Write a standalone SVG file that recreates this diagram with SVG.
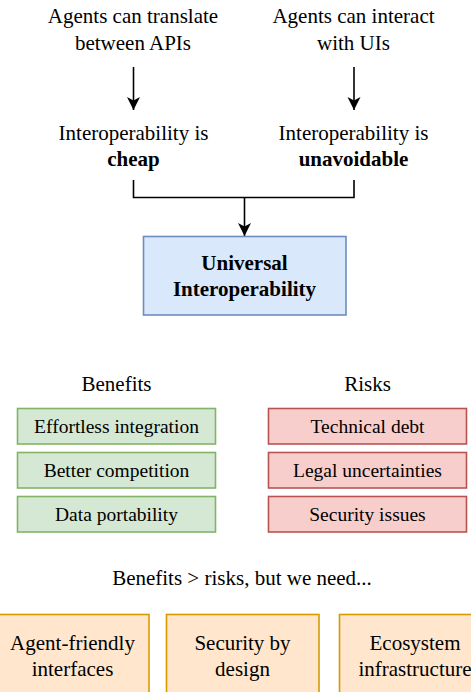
<svg xmlns="http://www.w3.org/2000/svg" width="471" height="692" viewBox="0 0 471 692">
<style>
text{font-family:Liberation Serif,Times New Roman,Times,serif;fill:#000;text-anchor:middle}
.t{font-size:21px}
.s{font-size:19.5px}
.b{font-weight:bold}
.conn{fill:none;stroke:#000;stroke-width:1.6}
.blue{fill:#dae8fc;stroke:#6c8ebf;stroke-width:1.6}
.green{fill:#d5e8d4;stroke:#82b366;stroke-width:1.6}
.red{fill:#f8cecc;stroke:#b85450;stroke-width:1.6}
.orange{fill:#ffe6cc;stroke:#d79b00;stroke-width:1.6}
</style>
<defs>
<marker id="ah" markerUnits="userSpaceOnUse" markerWidth="14" markerHeight="14" viewBox="0 0 14 14" refX="13" refY="7" orient="auto">
<path d="M0,0.5 L13,7 L0,13.5 L3.5,7 Z" fill="#000"/>
</marker>
</defs>
<g id="connectors">
<line class="conn" x1="133.5" y1="67" x2="133.5" y2="110" marker-end="url(#ah)"/>
<line class="conn" x1="354" y1="67" x2="354" y2="110" marker-end="url(#ah)"/>
<path class="conn" d="M133.5,180 V197.5 H354 V180"/>
<line class="conn" x1="244.5" y1="197.5" x2="244.5" y2="236" marker-end="url(#ah)"/>
</g>
<g id="n-translate"><text class="t" x="133" y="23">Agents can translate</text><text class="t" x="133" y="49.5">between APIs</text></g>
<g id="n-interact"><text class="t" x="353.5" y="23">Agents can interact</text><text class="t" x="353.5" y="49.5">with UIs</text></g>
<g id="n-cheap"><text class="t" x="133.5" y="140">Interoperability is</text><text class="t b" x="133.5" y="166">cheap</text></g>
<g id="n-unavoidable"><text class="t" x="353.5" y="140">Interoperability is</text><text class="t b" x="353.5" y="166">unavoidable</text></g>
<g id="n-universal"><rect class="blue" x="143.5" y="236.5" width="202.5" height="78.5"/><text class="t b" x="244.5" y="270">Universal</text><text class="t b" x="244.5" y="296">Interoperability</text></g>
<g id="n-benefits"><text class="t" x="116.5" y="391">Benefits</text></g>
<g id="n-risks"><text class="t" x="367.5" y="391">Risks</text></g>
<g id="n-b1"><rect class="green" x="17.5" y="408.5" width="198" height="35.5"/><text class="s" x="116.5" y="433">Effortless integration</text></g>
<g id="n-b2"><rect class="green" x="17.5" y="452.5" width="198" height="35.5"/><text class="s" x="116.5" y="477">Better competition</text></g>
<g id="n-b3"><rect class="green" x="17.5" y="496.5" width="198" height="35.5"/><text class="s" x="116.5" y="521">Data portability</text></g>
<g id="n-r1"><rect class="red" x="268.5" y="408.5" width="198" height="35.5"/><text class="s" x="367.5" y="433">Technical debt</text></g>
<g id="n-r2"><rect class="red" x="268.5" y="452.5" width="198" height="35.5"/><text class="s" x="367.5" y="477">Legal uncertainties</text></g>
<g id="n-r3"><rect class="red" x="268.5" y="496.5" width="198" height="35.5"/><text class="s" x="367.5" y="521">Security issues</text></g>
<g id="n-need"><text class="t" x="242" y="585">Benefits &gt; risks, but we need...</text></g>
<g id="n-o1"><rect class="orange" x="-3.5" y="614.5" width="152.5" height="80"/><text class="t" x="72.5" y="649.5">Agent-friendly</text><text class="t" x="72.5" y="675.5">interfaces</text></g>
<g id="n-o2"><rect class="orange" x="166.5" y="614.5" width="152.5" height="80"/><text class="t" x="242.5" y="649.5">Security by</text><text class="t" x="242.5" y="675.5">design</text></g>
<g id="n-o3"><rect class="orange" x="339.5" y="614.5" width="152.5" height="80"/><text class="t" x="415" y="649.5">Ecosystem</text><text class="t" x="415" y="675.5">infrastructure</text></g>
</svg>
